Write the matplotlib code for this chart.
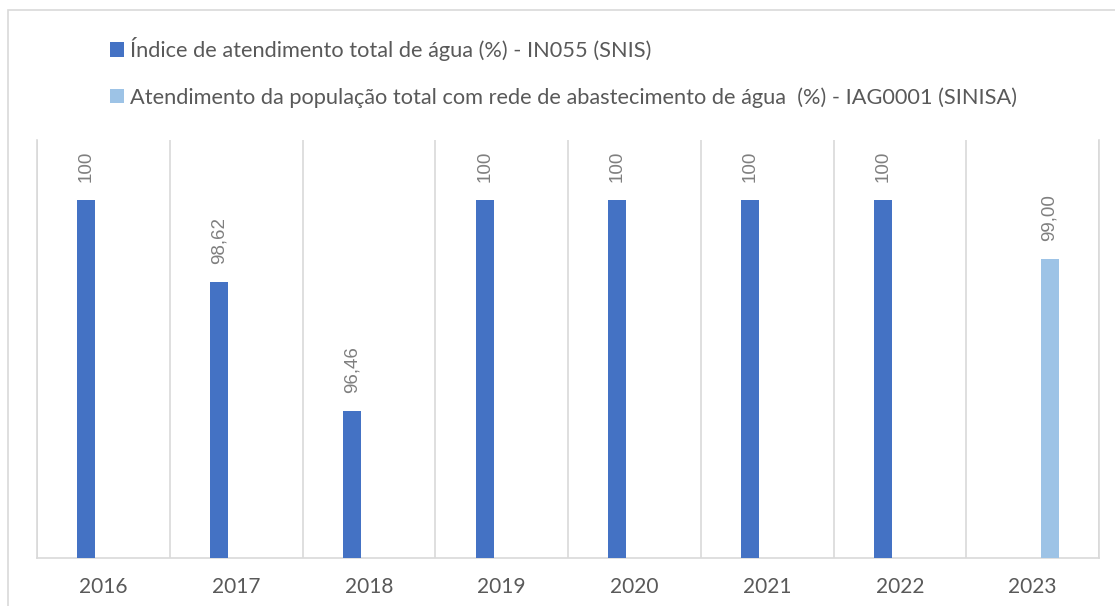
import numpy as np
import matplotlib
matplotlib.use('Agg')
import matplotlib.pyplot as plt
from matplotlib.patches import Rectangle

years = ['2016', '2017', '2018', '2019', '2020', '2021', '2022', '2023']
snis = [100, 98.62, 96.46, 100, 100, 100, 100]
snis_labels = ['100', '98,62', '96,46', '100', '100', '100', '100']
sinisa = [99.00]
sinisa_labels = ['99,00']
serie1 = 'Índice de atendimento total de água (%) - IN055 (SNIS)'
serie2 = 'Atendimento da população total com rede de abastecimento de água  (%) - IAG0001 (SINISA)'

W, H = 1115, 606
fig = plt.figure(figsize=(W / 100, H / 100), dpi=100)
ax = fig.add_axes([37 / W, (H - 558) / H, (1099 - 37) / W, (558 - 140) / H])

x = np.arange(len(years))
bw = 0.135
off = 0.128
b1 = ax.bar(x[:7] - off, snis, bw, color='#4472C4', label=serie1, zorder=3)
b2 = ax.bar(x[7:] + off, sinisa, bw, color='#9DC3E6', label=serie2, zorder=3)

ax.bar_label(b1, labels=snis_labels, rotation=90, padding=13, color='#7f7f7f',
             fontsize=13.5, family='Liberation Sans')
ax.bar_label(b2, labels=sinisa_labels, rotation=90, padding=13, color='#7f7f7f',
             fontsize=13.5, family='Liberation Sans')

ax.set_ylim(94, 101)
ax.set_xlim(-0.5, 7.5)
ax.set_yticks([])
ax.set_xticks(x)
ax.set_xticklabels(years, fontsize=15, color='#595959', family='Lato')
ax.tick_params(axis='x', length=0, pad=14)
ax.set_xticks(np.arange(-0.5, 8, 1), minor=True)
ax.tick_params(axis='x', which='minor', length=0)
ax.grid(which='minor', axis='x', color='#d9d9d9', lw=1.2, zorder=0)
ax.spines['top'].set_visible(False)
for s in ['left', 'right', 'bottom']:
    ax.spines[s].set_color('#d9d9d9')
    ax.spines[s].set_linewidth(1.2)

fig.legend(handles=[b1, b2], loc='upper left',
           bbox_to_anchor=(110 / W, 1 - 37 / H), frameon=False,
           labelcolor='#595959', prop={'family': 'Lato', 'size': 15.7},
           handlelength=0.66, handleheight=0.66, handletextpad=0.25,
           labelspacing=1.2, borderpad=0, borderaxespad=0)

fig.patches.append(Rectangle((8 / W, -0.1), 1.2, 1.1 - 10 / H, transform=fig.transFigure,
                             fill=False, edgecolor='#d9d9d9', lw=1.2))

fig.savefig('out.png', dpi=100)
